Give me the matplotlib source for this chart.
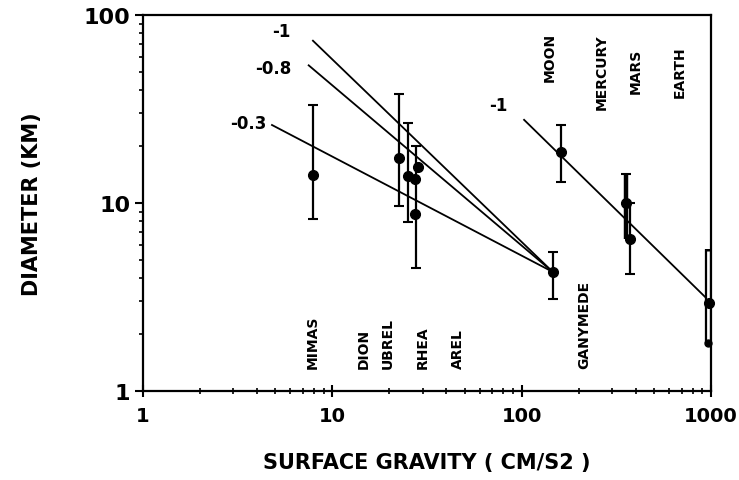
import matplotlib
matplotlib.use('Agg')
import matplotlib.pyplot as plt
import numpy as np

# surface gravity (cm/s2) and crater diameter (km)
gravity = [7.9, 22.6, 25.2, 28.5, 27.4, 27.2, 146, 161, 356, 372, 975]
diameter = [14.1, 17.3, 14.0, 15.5, 13.4, 8.7, 4.3, 18.7, 10.0, 6.4, 2.95]

# error bars (low / high ends)
bar_x = [7.9, 22.6, 25.2, 27.6, 146, 161, 372]
bar_lo = [8.2, 9.7, 7.9, 4.5, 3.1, 13.0, 4.2]
bar_hi = [33.2, 38.0, 26.5, 20.2, 5.5, 26.0, 10.0]
# mars has a heavy bar, earth an open one
mars_bar = [356, 6.4, 14.2]
earth_bar = [970, 1.8, 5.7]

# fitted power laws
fit_x = [[7.9, 146], [7.5, 146], [4.8, 146], [103, 1000]]
fit_y = [[73, 4.3], [54, 4.3], [26, 4.3], [27.7, 2.95]]
fit_labels = ['-1', '-0.8', '-0.3', '-1']
fit_label_pos = [(5.4, 82), (4.86, 52), (3.59, 26.7), (75, 33.2)]

# body names
planets = ['MOON', 'MERCURY', 'MARS', 'EARTH']
planet_pos = [(140, 60), (266, 50), (400, 50.5), (680, 50)]
moons = ['MIMAS', 'DION', 'UBREL', 'RHEA', 'AREL', 'GANYMEDE']
moon_x = [7.9, 14.7, 19.7, 30.0, 46.0, 213]

plt.rcParams['font.family'] = 'DejaVu Sans'
plt.rcParams['font.weight'] = 'bold'

fig = plt.figure(figsize=(7.39, 4.81), dpi=100)
ax = fig.add_axes([0.1935, 0.185, 0.7686, 0.7817])
ax.set_xscale('log')
ax.set_yscale('log')
ax.set_xlim(1, 1000)
ax.set_ylim(1, 100)

for xs, ys in zip(fit_x, fit_y):
    ax.plot(xs, ys, color='black', lw=1.3)
for lab, (tx, ty) in zip(fit_labels, fit_label_pos):
    ax.text(tx, ty, lab, ha='center', va='center', fontsize=12, fontweight='bold')

# error bars with small caps
ax.vlines(bar_x, bar_lo, bar_hi, color='black', lw=1.6)
ax.plot(bar_x, bar_lo, '_', color='black', ms=7, mew=1.5)
ax.plot(bar_x, bar_hi, '_', color='black', ms=7, mew=1.5)
ax.vlines(mars_bar[0], mars_bar[1], mars_bar[2], color='black', lw=3.2)
ax.plot([mars_bar[0]], [mars_bar[2]], '_', color='black', ms=7, mew=1.5)
ax.vlines(earth_bar[0], earth_bar[1], earth_bar[2], color='black', lw=4.5, clip_on=False)
ax.vlines(earth_bar[0], earth_bar[1] * 1.03, earth_bar[2] / 1.03, color='white', lw=2,
          clip_on=False)
ax.plot([earth_bar[0]], [earth_bar[1]], 'o', color='black', ms=5, clip_on=False)

ax.plot(gravity, diameter, 'o', color='black', ms=7, clip_on=False, zorder=5)

for name, (tx, ty) in zip(planets, planet_pos):
    ax.text(tx, ty, name, rotation=90, ha='center', va='center', fontsize=10,
            fontweight='bold')
for name, tx in zip(moons, moon_x):
    ax.text(tx, 1.33, name, rotation=90, ha='center', va='bottom', fontsize=10,
            fontweight='bold')

for side in ['left', 'bottom', 'top', 'right']:
    ax.spines[side].set_linewidth(1.6)

ax.set_xticks([1, 10, 100, 1000])
ax.set_xticklabels(['1', '10', '100', '1000'])
ax.set_yticks([1, 10, 100])
ax.set_yticklabels(['1', '10', '100'])
ax.tick_params(axis='x', which='major', direction='inout', length=9, width=1.5,
               labelsize=14, pad=6)
ax.tick_params(axis='x', which='minor', direction='inout', length=5, width=1.2)
ax.tick_params(axis='y', which='major', direction='out', length=6, width=1.5,
               labelsize=16, pad=3)
ax.tick_params(axis='y', which='minor', direction='out', length=3, width=1.2)

ax.set_xlabel('SURFACE GRAVITY ( CM/S2 )', fontsize=15, fontweight='bold', labelpad=20)
ax.set_ylabel('DIAMETER (KM)', fontsize=15, fontweight='bold', labelpad=30)

fig.savefig('out.png', dpi=100)
